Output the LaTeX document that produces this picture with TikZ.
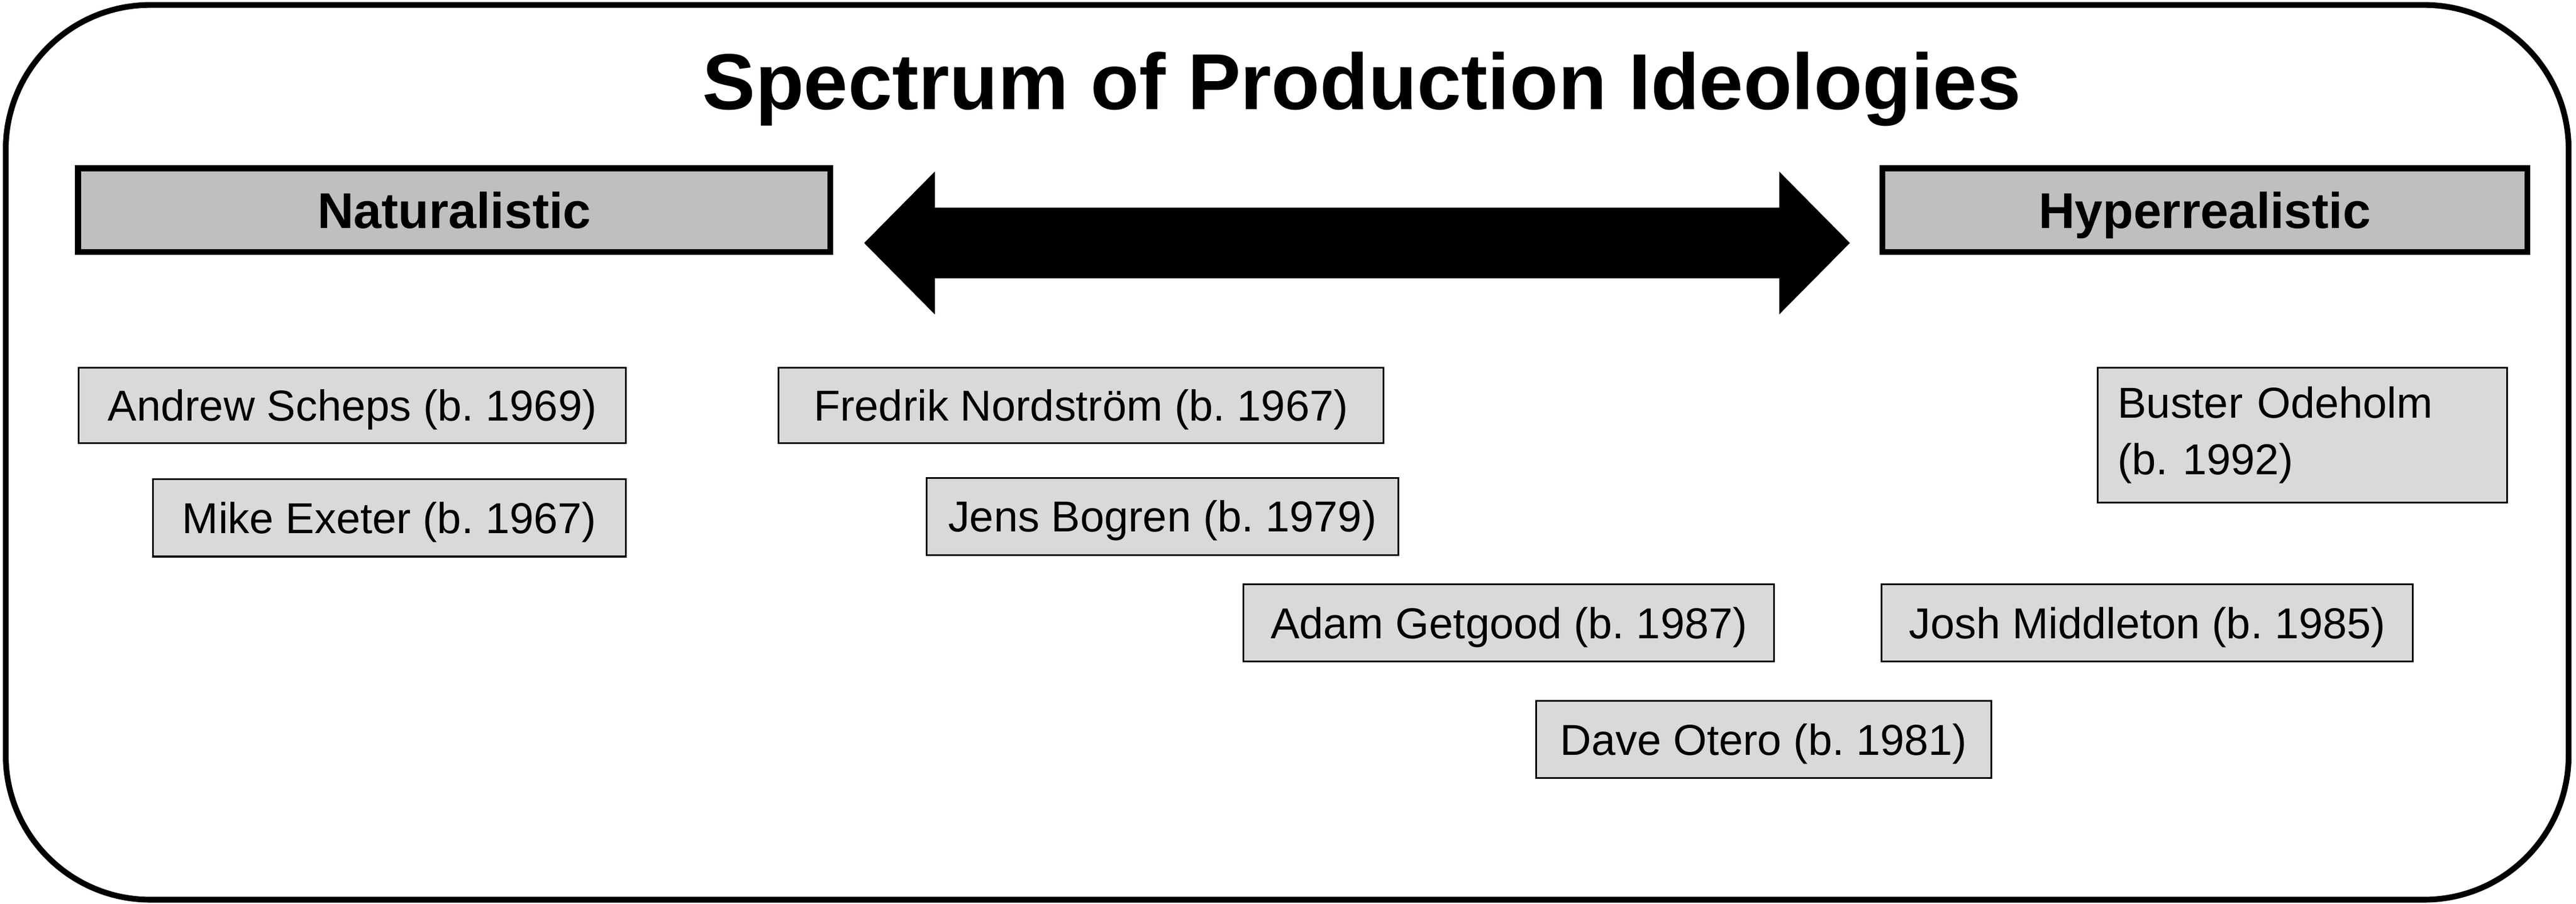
\documentclass[tikz,border=0pt]{standalone}
\usepackage{fontspec}
\setmainfont{Liberation Sans}
\frenchspacing
\definecolor{hgray}{RGB}{191, 191, 191}
\definecolor{pgray}{RGB}{217, 217, 217}
\tikzset{hdr/.style = {draw, line width = 2pt, fill = hgray, minimum height = 1.02cm, text height = 12.5pt, text depth = 0pt, font = \fontsize{17.4}{21}\selectfont\bfseries}}
\tikzset{pbox/.style = {draw, line width = 0.6pt, fill = pgray, minimum height = 0.94cm, inner xsep = 2pt, text height = 10.74pt, text depth = 0pt, font = \fontsize{15}{19.7}\selectfont}}
\begin{document}
\begin{tikzpicture}[x=0.2mm, y=-0.2mm]
    \useasboundingbox (0, 0) rectangle (1568, 550.3);
    \draw [line width = 2pt, rounded corners = 1.76cm] (3.5, 3) rectangle (1563.5, 548);
    \node [text height = 19.7pt, text depth = 0pt, font = \fontsize{27.5}{33}\selectfont\bfseries] (title) at (829, 49.5) {Spectrum of Production Ideologies};
    \node [hdr, minimum width = 9.16cm] (nat) at (276.5, 128) {Naturalistic};
    \node [hdr, minimum width = 7.85cm] (hyp) at (1342, 128) {Hyperrealistic};
    \fill (526, 148) -- (569, 104.5) -- (569, 126.5) -- (1083, 126.5) -- (1083, 104.5) -- (1126, 148) -- (1083, 191.5) -- (1083, 169.5) -- (569, 169.5) -- (569, 191.5) -- cycle;
    \node [pbox, minimum width = 6.66cm, minimum height = 0.92cm] (scheps) at (214.5, 247) {Andrew Scheps (b. 1969)};
    \node [pbox, minimum width = 5.76cm] (exeter) at (237, 315.5) {Mike Exeter (b. 1967)};
    \node [pbox, minimum width = 7.36cm, minimum height = 0.92cm] (nordstrom) at (658, 247) {Fredrik Nordstr\"om (b. 1967)};
    \node [pbox, minimum width = 5.74cm] (bogren) at (707.5, 314.5) {Jens Bogren (b. 1979)};
    \node [pbox, minimum width = 6.46cm] (getgood) at (918.5, 379.5) {Adam Getgood (b. 1987)};
    \node [pbox, minimum width = 5.54cm] (otero) at (1073.5, 450.5) {Dave Otero (b. 1981)};
    \node [pbox, minimum width = 6.47cm] (middleton) at (1307, 379.5) {Josh Middleton (b. 1985)};
    \node [pbox, text height = {}, text depth = {}, inner xsep = 0.24cm, text width = 4.5cm, align = left, minimum height = 1.64cm] (odeholm) at (1401.5, 265) {Buster Odeholm\\(b. 1992)};
  \end{tikzpicture}
\end{document}
